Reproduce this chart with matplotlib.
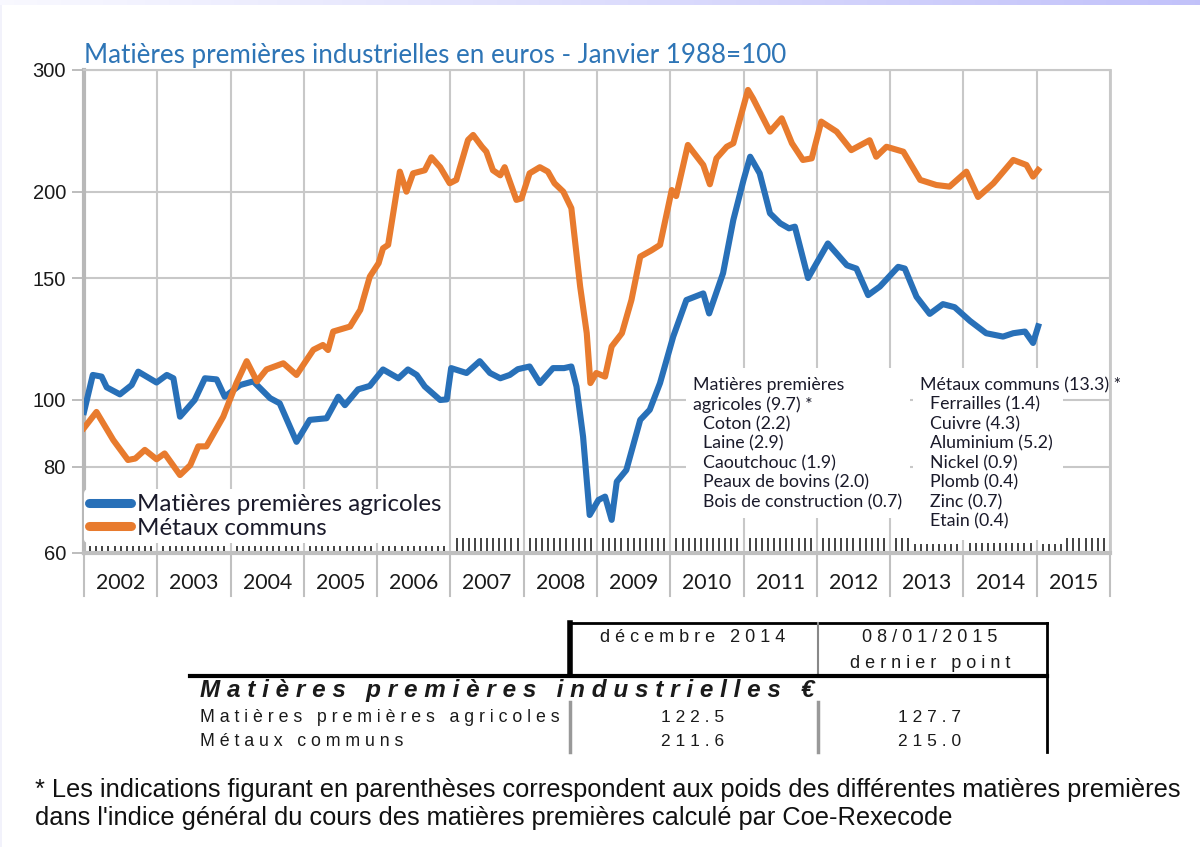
import numpy as np
import matplotlib.pyplot as plt
import matplotlib.transforms as mtransforms
from matplotlib.lines import Line2D
from matplotlib.patches import Rectangle
from matplotlib.ticker import NullLocator

plt.rcParams['font.family'] = ['Lato', 'DejaVu Sans']

# ===== DATA (index, janvier 1988 = 100; dates in decimal years) =====
agri_dates = [2002.00, 2002.12, 2002.24, 2002.31, 2002.49, 2002.65, 2002.74, 2002.99,
              2003.13, 2003.22, 2003.31, 2003.51, 2003.65, 2003.81, 2003.92,
              2004.13, 2004.31, 2004.54, 2004.67, 2004.90,
              2005.08, 2005.31, 2005.47, 2005.56, 2005.74, 2005.90,
              2006.08, 2006.29, 2006.42, 2006.54, 2006.65, 2006.86, 2006.95,
              2007.01, 2007.22, 2007.40, 2007.54, 2007.68, 2007.81, 2007.92,
              2008.08, 2008.22, 2008.40, 2008.55, 2008.65, 2008.72, 2008.81, 2008.90,
              2009.02, 2009.11, 2009.20, 2009.27, 2009.40, 2009.59, 2009.72, 2009.86,
              2010.04, 2010.22, 2010.45, 2010.53, 2010.72, 2010.86,
              2011.00, 2011.09, 2011.22, 2011.36, 2011.50, 2011.62, 2011.70, 2011.88,
              2012.15, 2012.41, 2012.54, 2012.70, 2012.86,
              2013.11, 2013.20, 2013.36, 2013.54, 2013.72, 2013.88,
              2014.09, 2014.31, 2014.54, 2014.68, 2014.84, 2014.95, 2015.02]
agri_values = [96.0, 108.6, 108.0, 104.2, 101.8, 105.0, 109.8, 105.9,
               108.6, 107.4, 94.5, 99.9, 107.4, 107.0, 101.0,
               105.0, 106.3, 100.5, 98.8, 86.9,
               93.5, 94.0, 101.0, 98.2, 103.5, 104.7,
               110.6, 107.4, 110.6, 108.6, 104.5, 99.9, 100.1,
               111.1, 109.3, 113.7, 109.3, 107.4, 108.6, 110.7,
               111.7, 105.7, 111.1, 111.1, 111.7, 104.5, 88.4, 68.1,
               71.6, 72.4, 67.0, 76.1, 79.1, 93.5, 96.7, 105.7,
               123.4, 139.4, 142.5, 133.3, 152.4, 182.0,
               208.0, 224.7, 212.6, 186.1, 180.0, 177.0, 178.0, 150.0,
               168.3, 156.5, 154.8, 141.7, 145.8,
               155.7, 154.8, 140.9, 133.1, 137.5, 136.1,
               130.0, 124.8, 123.4, 124.8, 125.5, 120.8, 127.7]

metal_dates = [2002.00, 2002.17, 2002.40, 2002.60, 2002.70, 2002.83, 2002.99,
               2003.10, 2003.31, 2003.45, 2003.56, 2003.67, 2003.90,
               2004.08, 2004.22, 2004.36, 2004.49, 2004.72, 2004.90,
               2005.13, 2005.26, 2005.33, 2005.40, 2005.63, 2005.77, 2005.90,
               2006.02, 2006.08, 2006.15, 2006.31, 2006.40, 2006.49, 2006.65, 2006.74, 2006.86, 2006.99,
               2007.08, 2007.24, 2007.31, 2007.43, 2007.49, 2007.58, 2007.68, 2007.74, 2007.90, 2007.97,
               2008.08, 2008.22, 2008.33, 2008.42, 2008.54, 2008.65, 2008.77, 2008.86, 2008.91, 2008.99,
               2009.11, 2009.20, 2009.34, 2009.47, 2009.59, 2009.74, 2009.86,
               2010.02, 2010.08, 2010.24, 2010.31, 2010.45, 2010.54, 2010.63, 2010.77, 2010.86,
               2011.06, 2011.13, 2011.36, 2011.52, 2011.66, 2011.81, 2011.93,
               2012.06, 2012.27, 2012.47, 2012.72, 2012.81, 2012.95,
               2013.18, 2013.41, 2013.63, 2013.81,
               2014.04, 2014.20, 2014.41, 2014.68, 2014.86, 2014.95, 2015.02]
metal_values = [91.0, 96.0, 87.4, 81.8, 82.2, 84.6, 82.0,
                83.6, 77.8, 80.4, 85.6, 85.6, 94.5,
                105.7, 113.7, 106.3, 110.6, 112.9, 108.6,
                118.1, 120.0, 118.0, 125.5, 127.6, 134.9, 150.7,
                157.6, 165.6, 167.5, 213.8, 200.0, 212.6, 214.8, 224.3, 217.0, 205.7,
                208.0, 237.6, 241.6, 232.3, 228.5, 214.8, 211.2, 217.0, 194.6, 195.6,
                212.6, 217.0, 213.8, 205.7, 200.0, 189.3, 145.8, 124.8, 105.7, 109.3,
                108.0, 119.4, 124.8, 139.4, 161.1, 164.4, 167.5,
                201.1, 197.1, 233.7, 228.5, 218.6, 205.0, 223.5, 232.3, 235.0,
                280.7, 272.7, 244.3, 255.4, 235.0, 222.3, 223.5,
                252.6, 244.3, 229.7, 237.4, 224.7, 232.3,
                228.5, 208.0, 204.5, 203.4,
                213.8, 196.5, 205.7, 222.3, 218.6, 210.3, 215.0]

years = [2002, 2003, 2004, 2005, 2006, 2007, 2008, 2009, 2010, 2011, 2012, 2013, 2014, 2015]
y_ticks = [60, 80, 100, 150, 200, 300]

agri_parts = ["Coton (2.2)", "Laine (2.9)", "Caoutchouc (1.9)",
              "Peaux de bovins (2.0)", "Bois de construction (0.7)"]
metal_parts = ["Ferrailles (1.4)", "Cuivre (4.3)", "Aluminium (5.2)", "Nickel (0.9)",
               "Plomb (0.4)", "Zinc (0.7)", "Etain (0.4)"]

table_rows = ["Matières premières agricoles", "Métaux communs"]
table_dec2014 = ["122.5", "211.6"]
table_last = ["127.7", "215.0"]

# ===== STYLE =====
blue = "#2870b8"
orange = "#e87b2e"
title_blue = "#2e75b6"
grid_gray = "#c8c8c8"
W, H = 1200, 847


def fx(px):
    return px / W


def fy(py):
    return 1 - py / H


def spaced(s):
    # the table in the reference uses wide letter spacing
    return " ".join(s)


fig = plt.figure(figsize=(12, 8.47), dpi=100)

# ===== MAIN CHART =====
ax = fig.add_axes([fx(84), fy(553), fx(1110) - fx(84), fy(70) - fy(553)])
ax.set_yscale("log")
ax.set_ylim(60, 300)
ax.set_xlim(2002, 2016)

ax.plot(agri_dates, agri_values, color=blue, lw=4.4, solid_joinstyle="round", zorder=3)
ax.plot(metal_dates, metal_values, color=orange, lw=4.4, solid_joinstyle="round", zorder=3)

ax.set_yticks(y_ticks)
ax.set_yticklabels([str(v) for v in y_ticks], family="Liberation Sans", fontsize=14.5, color="#1a1a1a")
ax.yaxis.set_minor_locator(NullLocator())
ax.tick_params(axis="y", length=9, width=1.3, color="#b8b8b8", pad=4)

ax.set_xticks(list(years) + [2016])
ax.set_xticklabels([])
ax.tick_params(axis="x", length=0)

ax.grid(True, color=grid_gray, lw=1.5)
ax.set_axisbelow(True)

ax.spines["left"].set_color("#b8b8b8")
ax.spines["left"].set_linewidth(3)
ax.spines["bottom"].set_color("#c0c0c0")
ax.spines["bottom"].set_linewidth(3)
ax.spines["top"].set_color(grid_gray)
ax.spines["top"].set_linewidth(1.5)
ax.spines["right"].set_color(grid_gray)
ax.spines["right"].set_linewidth(2)

trans = mtransforms.blended_transform_factory(ax.transData, ax.transAxes)

# year band under the plot
for b in list(years) + [2016]:
    ax.plot([b, b], [0, -0.088], transform=trans, color="#c0c0c0", lw=1.5, clip_on=False)
for y in years:
    ax.text(y + 0.5, -0.062, str(y), transform=trans, ha="center", va="center",
            fontsize=15.3, color="#1a1a1a")

# monthly tick marks along the bottom
tick_x = []
tick_h = []
for y in years:
    for m in range(1, 12):
        tick_x.append(y + m / 12)
        if y <= 2006:
            h = 0.011
        elif y <= 2012:
            h = 0.027
        elif y == 2013:
            h = 0.027 if m <= 3 else 0.014
        elif y == 2014:
            h = 0.016
        else:
            h = 0.014 if m <= 4 else 0.027
        tick_h.append(h)
ax.vlines(tick_x, 0.004, np.array(tick_h) + 0.004, transform=trans, colors="#222222", lw=1.2, zorder=4)

# legend
handles = [Line2D([0], [0], color=blue, lw=6.5, solid_capstyle="round"),
           Line2D([0], [0], color=orange, lw=6.5, solid_capstyle="round")]
leg = ax.legend(handles, ["Matières premières agricoles", "Métaux communs"],
                loc="lower left", bbox_to_anchor=(0.0, 0.02), frameon=True,
                facecolor="white", edgecolor="none", framealpha=1,
                fontsize=17.4, handlelength=1.75, handletextpad=0.25,
                labelspacing=0.1, borderpad=0.2, borderaxespad=0,
                labelcolor="#1a1a2a")
leg.set_zorder(5)

# ===== OVERLAY (pixel coordinates) =====
ov = fig.add_axes([0, 0, 1, 1], zorder=10)
ov.set_axis_off()

# soft gradient strip at the top edge
grad = np.linspace(0, 1, 256).reshape(1, -1)
c0 = np.array([0.975, 0.975, 1.0])
c1 = np.array([0.76, 0.76, 0.98])
grad_img = (c0[None, None, :] * (1 - grad[..., None]) + c1[None, None, :] * grad[..., None])
ov.imshow(grad_img, extent=[0, W, 5, 0], aspect="auto")
ov.add_patch(Rectangle((0, 5), 2, H, color="#f2f2fb", lw=0))
ov.set_xlim(0, W)
ov.set_ylim(H, 0)

# title
ov.text(84, 55, "Matières premières industrielles en euros - Janvier 1988=100",
        color=title_blue, fontsize=18.7, ha="left", va="center")

# weights annotations
ov.add_patch(Rectangle((686, 368), 224, 150, facecolor="white", edgecolor="none", zorder=1))
ov.add_patch(Rectangle((913, 368), 150, 172, facecolor="white", edgecolor="none", zorder=1))
line_step = 19.5
afs = 12.8
ov.text(693, 385, "Matières premières", fontsize=afs, va="center", color="#1a1a2a", zorder=2)
ov.text(693, 385 + line_step, "agricoles (9.7) *", fontsize=afs, va="center", color="#1a1a2a", zorder=2)
for i, s in enumerate(agri_parts):
    ov.text(703, 385 + (i + 2) * line_step, s, fontsize=afs, va="center", color="#1a1a2a", zorder=2)
ov.text(920, 385, "Métaux communs (13.3) *", fontsize=afs, va="center", color="#1a1a2a", zorder=2)
for i, s in enumerate(metal_parts):
    ov.text(930, 385 + (i + 1) * line_step, s, fontsize=afs, va="center", color="#1a1a2a", zorder=2)

# ===== TABLE =====
ov.plot([570, 1047], [623, 623], color="black", lw=2)
ov.plot([570, 570], [623, 674], color="black", lw=4)
ov.plot([818, 818], [623, 674], color="#888888", lw=1.5)
ov.plot([1047, 1047], [623, 752], color="black", lw=2)
ov.plot([190, 1047], [676, 676], color="black", lw=3)
ov.plot([570, 570], [702, 752], color="#999999", lw=2.5)
ov.plot([818, 818], [702, 752], color="#999999", lw=2.5)

tfont = dict(family="Liberation Sans", color="#1a1a1a", va="center")
ov.text(693, 637, spaced("décembre 2014"), fontsize=13, ha="center", **tfont)
ov.text(930, 637, spaced("08/01/2015"), fontsize=13, ha="center", **tfont)
ov.text(930, 663, spaced("dernier point"), fontsize=13, ha="center", **tfont)
ov.text(200, 690, spaced("Matières premières industrielles €"), fontsize=17.5,
        ha="left", fontweight="bold", fontstyle="italic", **tfont)
for i, row in enumerate(table_rows):
    yy = 717 + i * 24
    ov.text(200, yy, spaced(row), fontsize=12.8, ha="left", **tfont)
    ov.text(693, yy, spaced(table_dec2014[i]), fontsize=12.5, ha="center", **tfont)
    ov.text(930, yy, spaced(table_last[i]), fontsize=12.5, ha="center", **tfont)

# footnote
ov.text(35, 790, "* Les indications figurant en parenthèses correspondent aux poids des "
        "différentes matières premières", family="Liberation Sans", fontsize=18.3,
        va="center", color="#111111")
ov.text(35, 818, "dans l'indice général du cours des matières premières calculé par Coe-Rexecode",
        family="Liberation Sans", fontsize=18.3, va="center", color="#111111")

fig.savefig("out.png", dpi=100)
